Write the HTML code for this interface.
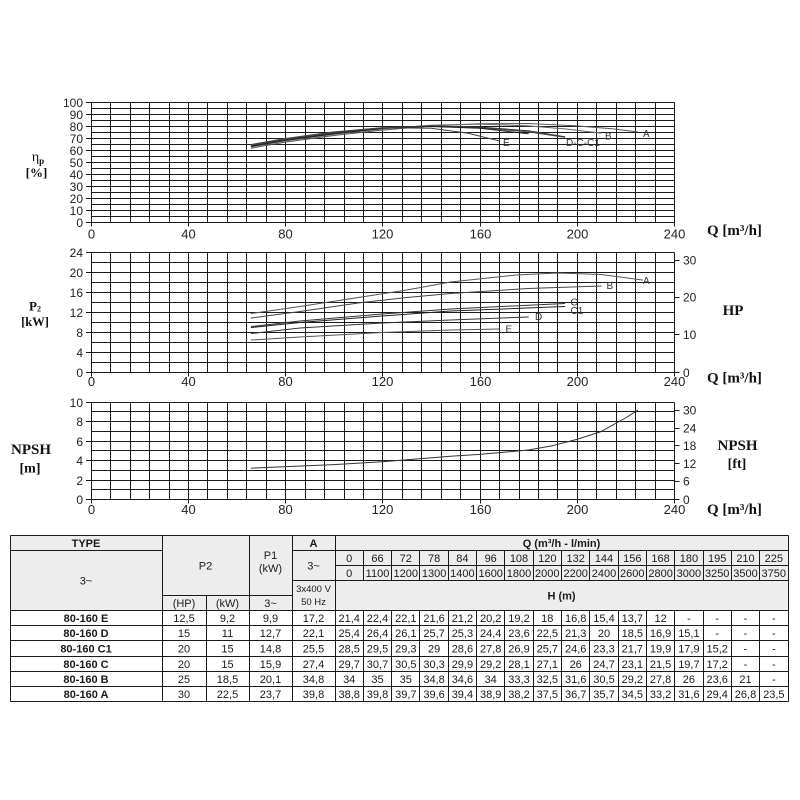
<!DOCTYPE html>
<html><head><meta charset="utf-8">
<style>
html,body{margin:0;padding:0;background:#fff;width:800px;height:800px;overflow:hidden}
svg{display:block}
.t{font-family:"Liberation Sans",Arial,sans-serif;font-size:12px;fill:#222}
.s{font-family:"Liberation Serif","Times New Roman",serif;font-weight:bold;fill:#111}
.lb{font-family:"Liberation Sans",Arial,sans-serif;font-size:10px;fill:#333}
.tb{font-family:"Liberation Sans",Arial,sans-serif;font-size:11px;fill:#1a1a1a}
.g{stroke:#1a1a1a;stroke-width:1;fill:none}
.c{fill:none;stroke-width:1;stroke-linejoin:round;stroke-linecap:round}
</style></head><body>
<svg width="800" height="800" viewBox="0 0 800 800" xmlns="http://www.w3.org/2000/svg">
<rect x="0" y="0" width="800" height="800" fill="#fff"/>

<!-- ================= TOP CHART (efficiency) ================= -->
<path class="g" d="M91.5 102.5V226.5M110.5 102.5V222.5M130.5 102.5V222.5M149.5 102.5V222.5M169.5 102.5V222.5M188.5 102.5V226.5M207.5 102.5V222.5M227.5 102.5V222.5M246.5 102.5V222.5M266.5 102.5V222.5M285.5 102.5V226.5M305.5 102.5V222.5M324.5 102.5V222.5M344.5 102.5V222.5M363.5 102.5V222.5M382.5 102.5V226.5M402.5 102.5V222.5M421.5 102.5V222.5M441.5 102.5V222.5M460.5 102.5V222.5M480.5 102.5V226.5M499.5 102.5V222.5M519.5 102.5V222.5M538.5 102.5V222.5M557.5 102.5V222.5M577.5 102.5V226.5M596.5 102.5V222.5M616.5 102.5V222.5M635.5 102.5V222.5M655.5 102.5V222.5M674.5 102.5V226.5"/>
<path class="g" d="M86 102.5H674.5M91.5 108.5H674.5M86 114.5H674.5M91.5 120.5H674.5M86 126.5H674.5M91.5 132.5H674.5M86 138.5H674.5M91.5 144.5H674.5M86 150.5H674.5M91.5 156.5H674.5M86 162.5H674.5M91.5 168.5H674.5M86 174.5H674.5M91.5 180.5H674.5M86 186.5H674.5M91.5 192.5H674.5M86 198.5H674.5M91.5 204.5H674.5M86 210.5H674.5M91.5 216.5H674.5M86 222.5H674.5"/>
<g class="t" text-anchor="end">
<text x="83" y="106.8">100</text><text x="83" y="118.8">90</text><text x="83" y="130.8">80</text><text x="83" y="142.8">70</text><text x="83" y="154.8">60</text><text x="83" y="166.8">50</text><text x="83" y="178.8">40</text><text x="83" y="190.8">30</text><text x="83" y="202.8">20</text><text x="83" y="214.8">10</text><text x="83" y="226.8">0</text>
</g>
<g class="t" text-anchor="middle" style="font-size:13px">
<text x="91.5" y="238.5">0</text><text x="188.5" y="238.5">40</text><text x="285.5" y="238.5">80</text><text x="382.5" y="238.5">120</text><text x="480.5" y="238.5">160</text><text x="577.5" y="238.5">200</text><text x="674.5" y="238.5">240</text>
</g>
<text class="s" x="707" y="235" style="font-size:15px">Q [m³/h]</text>
<text class="s" x="38" y="161" text-anchor="middle" style="font-size:14px;font-weight:normal">η<tspan style="font-size:9px;font-weight:bold" dy="3">p</tspan></text>
<text class="s" x="36.5" y="177" text-anchor="middle" style="font-size:13px">[%]</text>

<polyline class="c" stroke="#555" points="251.3,148.1 285.3,142.1 333.9,135.5 382.5,130.1 431.1,125.9 479.7,123.7 528.3,123.5 576.8,125.9 613.3,128.9 637.6,131.9"/>
<polyline class="c" stroke="#666" points="251.3,146.9 285.3,140.9 333.9,134.3 382.5,128.9 431.1,125.3 479.7,124.1 528.3,125.9 564.7,128.9 601.1,133.1"/>
<polyline class="c" stroke="#333" points="251.3,145.7 285.3,139.7 333.9,133.1 382.5,128.3 431.1,125.9 479.7,127.1 528.3,130.7 564.7,136.7"/>
<polyline class="c" stroke="#444" points="251.3,145.1 285.3,139.1 333.9,132.5 382.5,127.7 431.1,125.9 479.7,127.7 528.3,131.9 564.7,137.3"/>
<polyline class="c" stroke="#222" points="251.3,146.3 285.3,140.3 333.9,133.7 382.5,128.3 431.1,126.5 479.7,128.3 528.3,133.7"/>
<polyline class="c" stroke="#444" points="251.3,144.5 285.3,138.5 333.9,131.9 382.5,127.7 431.1,128.3 467.5,133.1 499.1,140.9"/>
<text class="lb" x="643" y="137">A</text>
<text class="lb" x="605" y="139.5">B</text>
<text class="lb" x="566" y="146">D-C-C1</text>
<text class="lb" x="503" y="146">E</text>

<!-- ================= MIDDLE CHART (P2) ================= -->
<path class="g" d="M91.5 252.5V376.5M110.5 252.5V372.5M130.5 252.5V372.5M149.5 252.5V372.5M169.5 252.5V372.5M188.5 252.5V376.5M207.5 252.5V372.5M227.5 252.5V372.5M246.5 252.5V372.5M266.5 252.5V372.5M285.5 252.5V376.5M305.5 252.5V372.5M324.5 252.5V372.5M344.5 252.5V372.5M363.5 252.5V372.5M382.5 252.5V376.5M402.5 252.5V372.5M421.5 252.5V372.5M441.5 252.5V372.5M460.5 252.5V372.5M480.5 252.5V376.5M499.5 252.5V372.5M519.5 252.5V372.5M538.5 252.5V372.5M557.5 252.5V372.5M577.5 252.5V376.5M596.5 252.5V372.5M616.5 252.5V372.5M635.5 252.5V372.5M655.5 252.5V372.5M674.5 252.5V376.5"/>
<path class="g" d="M86 252.5H674.5M91.5 262.5H674.5M86 272.5H674.5M91.5 282.5H674.5M86 292.5H674.5M91.5 302.5H674.5M86 312.5H674.5M91.5 322.5H674.5M86 332.5H674.5M91.5 342.5H674.5M86 352.5H674.5M91.5 362.5H674.5M86 372.5H674.5"/>
<path class="g" d="M674.5 260.5H679.5M674.5 297.5H679.5M674.5 334.5H679.5M674.5 372.5H679.5"/>
<g class="t" text-anchor="end">
<text x="83" y="256.8">24</text><text x="83" y="276.8">20</text><text x="83" y="296.8">16</text><text x="83" y="316.8">12</text><text x="83" y="336.8">8</text><text x="83" y="356.8">4</text><text x="83" y="376.8">0</text>
</g>
<g class="t">
<text x="683" y="264.5">30</text><text x="683" y="301.7">20</text><text x="683" y="339">10</text><text x="683" y="376.8">0</text>
</g>
<g class="t" text-anchor="middle" style="font-size:13px">
<text x="91.5" y="386">0</text><text x="188.5" y="386">40</text><text x="285.5" y="386">80</text><text x="382.5" y="386">120</text><text x="480.5" y="386">160</text><text x="577.5" y="386">200</text><text x="674.5" y="386">240</text>
</g>
<text class="s" x="707" y="382.5" style="font-size:15px">Q [m³/h]</text>
<text class="s" x="733" y="315" text-anchor="middle" style="font-size:15px">HP</text>
<text class="s" x="35" y="310.5" text-anchor="middle" style="font-size:13px">P<tspan style="font-size:8px" dy="1">2</tspan></text>
<text class="s" x="35" y="326" text-anchor="middle" style="font-size:12.5px">[kW]</text>

<polyline class="c" stroke="#555" points="251.3,313.5 299.9,306.5 358.2,297.5 406.8,290 450.5,282 516.1,275 557.4,273 601.1,274.5 642.4,280"/>
<polyline class="c" stroke="#444" points="251.3,318 299.9,311.5 358.2,303 406.8,297.5 450.5,293.5 528.3,288.5 601.1,286"/>
<polyline class="c" stroke="#333" points="251.3,326.5 299.9,321 382.5,314 450.5,309 564.7,303.5"/>
<polyline class="c" stroke="#222" points="251.3,327.5 299.9,322.5 382.5,316 450.5,311 564.7,306.5"/>
<polyline class="c" stroke="#333" points="251.3,333.5 299.9,328 382.5,323 450.5,320 528.3,317"/>
<polyline class="c" stroke="#555" points="251.3,340 299.9,337 382.5,332.5 450.5,330 499.1,329"/>
<text class="lb" x="643" y="284">A</text>
<text class="lb" x="606.5" y="289">B</text>
<text class="lb" x="570.5" y="305.5">C</text>
<text class="lb" x="570.5" y="314">C1</text>
<text class="lb" x="535" y="320">D</text>
<text class="lb" x="505.5" y="332.5">E</text>

<!-- ================= BOTTOM CHART (NPSH) ================= -->
<path class="g" d="M91.5 402.5V503.5M110.5 402.5V499.5M130.5 402.5V499.5M149.5 402.5V499.5M169.5 402.5V499.5M188.5 402.5V503.5M207.5 402.5V499.5M227.5 402.5V499.5M246.5 402.5V499.5M266.5 402.5V499.5M285.5 402.5V503.5M305.5 402.5V499.5M324.5 402.5V499.5M344.5 402.5V499.5M363.5 402.5V499.5M382.5 402.5V503.5M402.5 402.5V499.5M421.5 402.5V499.5M441.5 402.5V499.5M460.5 402.5V499.5M480.5 402.5V503.5M499.5 402.5V499.5M519.5 402.5V499.5M538.5 402.5V499.5M557.5 402.5V499.5M577.5 402.5V503.5M596.5 402.5V499.5M616.5 402.5V499.5M635.5 402.5V499.5M655.5 402.5V499.5M674.5 402.5V503.5"/>
<path class="g" d="M86 402.5H674.5M91.5 411.5H674.5M86 421.5H674.5M91.5 431.5H674.5M86 441.5H674.5M91.5 450.5H674.5M86 460.5H674.5M91.5 470.5H674.5M86 480.5H674.5M91.5 489.5H674.5M86 499.5H674.5"/>
<path class="g" d="M674.5 410.5H679.5M674.5 428.5H679.5M674.5 445.5H679.5M674.5 463.5H679.5M674.5 481.5H679.5M674.5 499.5H679.5"/>
<g class="t" text-anchor="end">
<text x="83" y="406.8">10</text><text x="83" y="425.8">8</text><text x="83" y="445.8">6</text><text x="83" y="464.8">4</text><text x="83" y="484.8">2</text><text x="83" y="503.8">0</text>
</g>
<g class="t">
<text x="683" y="414.6">30</text><text x="683" y="432.3">24</text><text x="683" y="450.1">18</text><text x="683" y="467.8">12</text><text x="683" y="485.6">6</text><text x="683" y="503.8">0</text>
</g>
<g class="t" text-anchor="middle" style="font-size:13px">
<text x="91.5" y="514">0</text><text x="188.5" y="514">40</text><text x="285.5" y="514">80</text><text x="382.5" y="514">120</text><text x="480.5" y="514">160</text><text x="577.5" y="514">200</text><text x="674.5" y="514">240</text>
</g>
<text class="s" x="707" y="514" style="font-size:15px">Q [m³/h]</text>
<text class="s" x="31" y="454" text-anchor="middle" style="font-size:15px">NPSH</text>
<text class="s" x="30" y="472.5" text-anchor="middle" style="font-size:14px">[m]</text>
<text class="s" x="737.5" y="450" text-anchor="middle" style="font-size:15px">NPSH</text>
<text class="s" x="737" y="468" text-anchor="middle" style="font-size:14px">[ft]</text>
<polyline class="c" stroke="#333" points="251.3,468.1 333.9,464.6 382.5,461.7 450.5,456.3 479.7,454.4 528.3,450 552.5,445.7 576.8,439.4 601.1,431.6 625.4,418 637.6,410.3"/>

<!-- ================= TABLE ================= -->
<rect x="10.5" y="535.5" width="778" height="75" fill="#ededed"/>
<path class="g" d="M10.5 535.5H788.5M10.5 550.5H162.5M292.5 550.5H788.5M335.5 565.5H788.5M292.5 580.5H788.5M162.5 595.5H292.5M10.5 610.5H788.5M10.5 625.5H788.5M10.5 640.5H788.5M10.5 656.5H788.5M10.5 671.5H788.5M10.5 686.5H788.5M10.5 701.5H788.5"/>
<path class="g" d="M10.5 535.5V701.5M162.5 535.5V701.5M206.5 595.5V701.5M249.5 535.5V701.5M292.5 535.5V701.5M335.5 535.5V701.5M788.5 535.5V701.5"/>
<path class="g" d="M363.5 550.5V580.5M391.5 550.5V580.5M419.5 550.5V580.5M448.5 550.5V580.5M476.5 550.5V580.5M504.5 550.5V580.5M533.5 550.5V580.5M561.5 550.5V580.5M589.5 550.5V580.5M618.5 550.5V580.5M646.5 550.5V580.5M674.5 550.5V580.5M703.5 550.5V580.5M731.5 550.5V580.5M759.5 550.5V580.5"/>
<path class="g" d="M363.5 610.5V701.5M391.5 610.5V701.5M419.5 610.5V701.5M448.5 610.5V701.5M476.5 610.5V701.5M504.5 610.5V701.5M533.5 610.5V701.5M561.5 610.5V701.5M589.5 610.5V701.5M618.5 610.5V701.5M646.5 610.5V701.5M674.5 610.5V701.5M703.5 610.5V701.5M731.5 610.5V701.5M759.5 610.5V701.5"/>

<g class="tb" text-anchor="middle">
<text x="86" y="547" font-weight="bold">TYPE</text>
<text x="86" y="584.5">3~</text>
<text x="205.5" y="569.5">P2</text>
<text x="270.5" y="559">P1</text>
<text x="270.5" y="572">(kW)</text>
<text x="313.5" y="547" font-weight="bold">A</text>
<text x="313.5" y="569.5">3~</text>
<text x="313.5" y="592" style="font-size:9.5px">3x400 V</text>
<text x="313.5" y="605" style="font-size:9.5px">50 Hz</text>
<text x="184" y="607">(HP)</text>
<text x="227.5" y="607">(kW)</text>
<text x="270.5" y="607">3~</text>
<text x="561.5" y="547" font-weight="bold">Q (m³/h - l/min)</text>
<text x="561.5" y="599.5" font-weight="bold">H (m)</text>

<text x="349.2" y="562">0</text><text x="377.5" y="562">66</text><text x="405.8" y="562">72</text><text x="434.1" y="562">78</text><text x="462.4" y="562">84</text><text x="490.7" y="562">96</text><text x="519" y="562">108</text><text x="547.3" y="562">120</text><text x="575.7" y="562">132</text><text x="604" y="562">144</text><text x="632.3" y="562">156</text><text x="660.6" y="562">168</text><text x="688.9" y="562">180</text><text x="717.2" y="562">195</text><text x="745.5" y="562">210</text><text x="773.8" y="562">225</text>

<text x="349.2" y="577">0</text><text x="377.5" y="577">1100</text><text x="405.8" y="577">1200</text><text x="434.1" y="577">1300</text><text x="462.4" y="577">1400</text><text x="490.7" y="577">1600</text><text x="519" y="577">1800</text><text x="547.3" y="577">2000</text><text x="575.7" y="577">2200</text><text x="604" y="577">2400</text><text x="632.3" y="577">2600</text><text x="660.6" y="577">2800</text><text x="688.9" y="577">3000</text><text x="717.2" y="577">3250</text><text x="745.5" y="577">3500</text><text x="773.8" y="577">3750</text>

<!-- E -->
<text x="86" y="622" font-weight="bold">80-160 E</text>
<text x="184" y="622">12,5</text><text x="227.5" y="622">9,2</text><text x="270.5" y="622">9,9</text><text x="313.5" y="622">17,2</text>
<text x="349.2" y="622">21,4</text><text x="377.5" y="622">22,4</text><text x="405.8" y="622">22,1</text><text x="434.1" y="622">21,6</text><text x="462.4" y="622">21,2</text><text x="490.7" y="622">20,2</text><text x="519" y="622">19,2</text><text x="547.3" y="622">18</text><text x="575.7" y="622">16,8</text><text x="604" y="622">15,4</text><text x="632.3" y="622">13,7</text><text x="660.6" y="622">12</text><text x="688.9" y="622">-</text><text x="717.2" y="622">-</text><text x="745.5" y="622">-</text><text x="773.8" y="622">-</text>
<!-- D -->
<text x="86" y="637" font-weight="bold">80-160 D</text>
<text x="184" y="637">15</text><text x="227.5" y="637">11</text><text x="270.5" y="637">12,7</text><text x="313.5" y="637">22,1</text>
<text x="349.2" y="637">25,4</text><text x="377.5" y="637">26,4</text><text x="405.8" y="637">26,1</text><text x="434.1" y="637">25,7</text><text x="462.4" y="637">25,3</text><text x="490.7" y="637">24,4</text><text x="519" y="637">23,6</text><text x="547.3" y="637">22,5</text><text x="575.7" y="637">21,3</text><text x="604" y="637">20</text><text x="632.3" y="637">18,5</text><text x="660.6" y="637">16,9</text><text x="688.9" y="637">15,1</text><text x="717.2" y="637">-</text><text x="745.5" y="637">-</text><text x="773.8" y="637">-</text>
<!-- C1 -->
<text x="86" y="652.5" font-weight="bold">80-160 C1</text>
<text x="184" y="652.5">20</text><text x="227.5" y="652.5">15</text><text x="270.5" y="652.5">14,8</text><text x="313.5" y="652.5">25,5</text>
<text x="349.2" y="652.5">28,5</text><text x="377.5" y="652.5">29,5</text><text x="405.8" y="652.5">29,3</text><text x="434.1" y="652.5">29</text><text x="462.4" y="652.5">28,6</text><text x="490.7" y="652.5">27,8</text><text x="519" y="652.5">26,9</text><text x="547.3" y="652.5">25,7</text><text x="575.7" y="652.5">24,6</text><text x="604" y="652.5">23,3</text><text x="632.3" y="652.5">21,7</text><text x="660.6" y="652.5">19,9</text><text x="688.9" y="652.5">17,9</text><text x="717.2" y="652.5">15,2</text><text x="745.5" y="652.5">-</text><text x="773.8" y="652.5">-</text>
<!-- C -->
<text x="86" y="668" font-weight="bold">80-160 C</text>
<text x="184" y="668">20</text><text x="227.5" y="668">15</text><text x="270.5" y="668">15,9</text><text x="313.5" y="668">27,4</text>
<text x="349.2" y="668">29,7</text><text x="377.5" y="668">30,7</text><text x="405.8" y="668">30,5</text><text x="434.1" y="668">30,3</text><text x="462.4" y="668">29,9</text><text x="490.7" y="668">29,2</text><text x="519" y="668">28,1</text><text x="547.3" y="668">27,1</text><text x="575.7" y="668">26</text><text x="604" y="668">24,7</text><text x="632.3" y="668">23,1</text><text x="660.6" y="668">21,5</text><text x="688.9" y="668">19,7</text><text x="717.2" y="668">17,2</text><text x="745.5" y="668">-</text><text x="773.8" y="668">-</text>
<!-- B -->
<text x="86" y="683" font-weight="bold">80-160 B</text>
<text x="184" y="683">25</text><text x="227.5" y="683">18,5</text><text x="270.5" y="683">20,1</text><text x="313.5" y="683">34,8</text>
<text x="349.2" y="683">34</text><text x="377.5" y="683">35</text><text x="405.8" y="683">35</text><text x="434.1" y="683">34,8</text><text x="462.4" y="683">34,6</text><text x="490.7" y="683">34</text><text x="519" y="683">33,3</text><text x="547.3" y="683">32,5</text><text x="575.7" y="683">31,6</text><text x="604" y="683">30,5</text><text x="632.3" y="683">29,2</text><text x="660.6" y="683">27,8</text><text x="688.9" y="683">26</text><text x="717.2" y="683">23,6</text><text x="745.5" y="683">21</text><text x="773.8" y="683">-</text>
<!-- A -->
<text x="86" y="698" font-weight="bold">80-160 A</text>
<text x="184" y="698">30</text><text x="227.5" y="698">22,5</text><text x="270.5" y="698">23,7</text><text x="313.5" y="698">39,8</text>
<text x="349.2" y="698">38,8</text><text x="377.5" y="698">39,8</text><text x="405.8" y="698">39,7</text><text x="434.1" y="698">39,6</text><text x="462.4" y="698">39,4</text><text x="490.7" y="698">38,9</text><text x="519" y="698">38,2</text><text x="547.3" y="698">37,5</text><text x="575.7" y="698">36,7</text><text x="604" y="698">35,7</text><text x="632.3" y="698">34,5</text><text x="660.6" y="698">33,2</text><text x="688.9" y="698">31,6</text><text x="717.2" y="698">29,4</text><text x="745.5" y="698">26,8</text><text x="773.8" y="698">23,5</text>
</g>
</svg>
</body></html>
